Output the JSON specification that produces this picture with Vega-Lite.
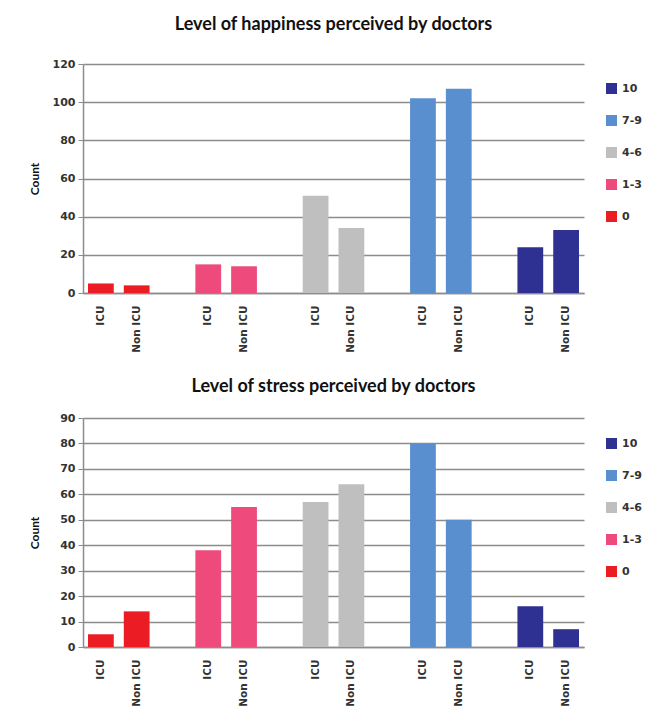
{
  "$schema": "https://vega.github.io/schema/vega-lite/v6.json",
  "description": "Level of happiness and stress perceived by ICU and non ICU doctors, counts by score band.",
  "padding": {"left": 28, "top": 16, "right": 5, "bottom": 5},
  "spacing": 25,
  "datasets": {
    "happiness": [
      {"level": "0", "unit": "ICU", "key": "0|ICU", "count": 5},
      {"level": "0", "unit": "Non ICU", "key": "0|Non ICU", "count": 4},
      {"level": "1-3", "unit": "ICU", "key": "1-3|ICU", "count": 15},
      {"level": "1-3", "unit": "Non ICU", "key": "1-3|Non ICU", "count": 14},
      {"level": "4-6", "unit": "ICU", "key": "4-6|ICU", "count": 51},
      {"level": "4-6", "unit": "Non ICU", "key": "4-6|Non ICU", "count": 34},
      {"level": "7-9", "unit": "ICU", "key": "7-9|ICU", "count": 102},
      {"level": "7-9", "unit": "Non ICU", "key": "7-9|Non ICU", "count": 107},
      {"level": "10", "unit": "ICU", "key": "10|ICU", "count": 24},
      {"level": "10", "unit": "Non ICU", "key": "10|Non ICU", "count": 33}
    ],
    "stress": [
      {"level": "0", "unit": "ICU", "key": "0|ICU", "count": 5},
      {"level": "0", "unit": "Non ICU", "key": "0|Non ICU", "count": 14},
      {"level": "1-3", "unit": "ICU", "key": "1-3|ICU", "count": 38},
      {"level": "1-3", "unit": "Non ICU", "key": "1-3|Non ICU", "count": 55},
      {"level": "4-6", "unit": "ICU", "key": "4-6|ICU", "count": 57},
      {"level": "4-6", "unit": "Non ICU", "key": "4-6|Non ICU", "count": 64},
      {"level": "7-9", "unit": "ICU", "key": "7-9|ICU", "count": 80},
      {"level": "7-9", "unit": "Non ICU", "key": "7-9|Non ICU", "count": 50},
      {"level": "10", "unit": "ICU", "key": "10|ICU", "count": 16},
      {"level": "10", "unit": "Non ICU", "key": "10|Non ICU", "count": 7}
    ]
  },
  "vconcat": [
    {
      "title": {"text": "Level of happiness perceived by doctors", "offset": 24},
      "data": {"name": "happiness"},
      "width": 501,
      "height": 229,
      "mark": {"type": "bar"},
      "encoding": {
        "x": {
          "field": "key",
          "type": "nominal",
          "sort": null,
          "scale": {
            "domain": ["0|ICU", "0|Non ICU", "g1", "1-3|ICU", "1-3|Non ICU", "g2", "4-6|ICU", "4-6|Non ICU", "g3", "7-9|ICU", "7-9|Non ICU", "g4", "10|ICU", "10|Non ICU"],
            "paddingInner": 0.28,
            "paddingOuter": 0.14
          },
          "axis": {"title": null, "labelExpr": "indexof(datum.value, '|') < 0 ? '' : split(datum.value, '|')[1]"}
        },
        "y": {
          "field": "count",
          "type": "quantitative",
          "title": "Count",
          "scale": {"domain": [0, 120]},
          "axis": {"values": [0, 20, 40, 60, 80, 100, 120]}
        },
        "color": {
          "field": "level",
          "type": "nominal",
          "scale": {
            "domain": ["10", "7-9", "4-6", "1-3", "0"],
            "range": ["#2e3192", "#5a8fcf", "#bfbfbf", "#ee4a7b", "#ec1c24"]
          },
          "legend": {"title": null, "orient": "none", "legendX": 523, "legendY": 19}
        }
      }
    },
    {
      "title": {"text": "Level of stress perceived by doctors", "offset": 16},
      "data": {"name": "stress"},
      "width": 501,
      "height": 229,
      "mark": {"type": "bar"},
      "encoding": {
        "x": {
          "field": "key",
          "type": "nominal",
          "sort": null,
          "scale": {
            "domain": ["0|ICU", "0|Non ICU", "g1", "1-3|ICU", "1-3|Non ICU", "g2", "4-6|ICU", "4-6|Non ICU", "g3", "7-9|ICU", "7-9|Non ICU", "g4", "10|ICU", "10|Non ICU"],
            "paddingInner": 0.28,
            "paddingOuter": 0.14
          },
          "axis": {"title": null, "labelExpr": "indexof(datum.value, '|') < 0 ? '' : split(datum.value, '|')[1]"}
        },
        "y": {
          "field": "count",
          "type": "quantitative",
          "title": "Count",
          "scale": {"domain": [0, 90]},
          "axis": {"values": [0, 10, 20, 30, 40, 50, 60, 70, 80, 90]}
        },
        "color": {
          "field": "level",
          "type": "nominal",
          "scale": {
            "domain": ["10", "7-9", "4-6", "1-3", "0"],
            "range": ["#2e3192", "#5a8fcf", "#bfbfbf", "#ee4a7b", "#ec1c24"]
          },
          "legend": {"title": null, "orient": "none", "legendX": 523, "legendY": 20}
        }
      }
    }
  ],
  "resolve": {"scale": {"color": "independent", "x": "independent", "y": "independent"}, "legend": {"color": "independent"}},
  "config": {
    "view": {"stroke": null},
    "title": {"font": "Lato", "fontSize": 18, "fontWeight": "bold", "color": "#111111", "anchor": "middle", "frame": "group"},
    "axis": {
      "labelFont": "DejaVu Sans",
      "labelFontSize": 11,
      "labelFontWeight": "bold",
      "labelColor": "#333333",
      "titleFont": "Lato",
      "titleFontSize": 12,
      "titleFontWeight": "bold",
      "titleColor": "#111111",
      "domainColor": "#8c8c8c",
      "domainWidth": 1.5,
      "tickColor": "#8c8c8c",
      "gridColor": "#8c8c8c",
      "gridWidth": 1.3
    },
    "axisX": {"labelAngle": 270, "ticks": false, "grid": false, "labelPadding": 12, "labelFontSize": 10.5},
    "axisY": {"tickSize": 5, "labelPadding": 3, "titlePadding": 10, "grid": true, "minExtent": 32, "maxExtent": 32},
    "legend": {
      "symbolType": "square",
      "symbolSize": 121,
      "symbolStrokeWidth": 0,
      "labelFont": "DejaVu Sans",
      "labelFontSize": 11,
      "labelFontWeight": "bold",
      "labelColor": "#333333",
      "labelOffset": 5,
      "rowPadding": 20,
      "padding": 0
    }
  }
}
